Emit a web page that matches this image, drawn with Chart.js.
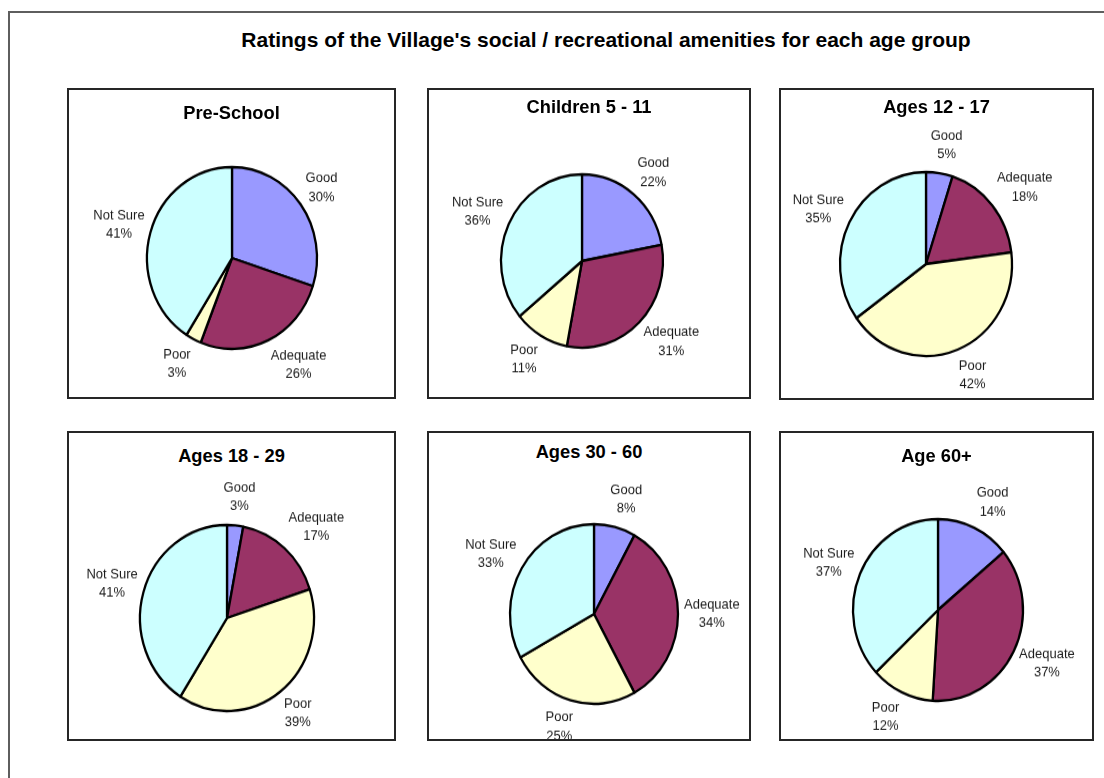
<!DOCTYPE html>
<html lang="en">
<head>
    <meta charset="UTF-8">
    <title>Ratings of the Village's social / recreational amenities</title>
    <script src="https://cdn.jsdelivr.net/npm/chart.js"></script>
    <style>
        html, body {
            margin: 0;
            padding: 0;
            background: #fff;
        }
        body {
            position: relative;
            width: 1104px;
            height: 778px;
            overflow: hidden;
            font-family: Arial, 'Liberation Sans', sans-serif;
        }
        .frame {
            position: absolute;
            left: 8px;
            top: 11px;
            width: 1200px;
            height: 900px;
            border: 2px solid #5e5e5e;
            box-sizing: border-box;
        }
        .main-title {
            position: absolute;
            left: 606px;
            top: 28.5px;
            transform: translateX(-50%);
            white-space: nowrap;
            font-size: 21px;
            line-height: 1;
            font-weight: bold;
            color: #000;
        }
        .panel {
            position: absolute;
            border: 2px solid #262626;
            box-sizing: border-box;
            overflow: hidden;
            background: #fff;
        }
        .panel-title {
            position: absolute;
            left: 0;
            right: 0;
            text-align: center;
            font-size: 18.3px;
            line-height: 1;
            font-weight: bold;
            color: #000;
            white-space: nowrap;
        }
        .panel canvas {
            position: absolute;
            transform-origin: 50% 50%;
        }
    </style>
</head>
<body>
    <div class="frame"></div>
    <div class="main-title">Ratings of the Village's social / recreational amenities for each age group</div>
    <div id="panels"></div>

    <script>
        // rating categories and the share (%) of answers for each age group
        const categories = ['Good', 'Adequate', 'Poor', 'Not Sure'];
        const ageGroups = ['Pre-School', 'Children 5 - 11', 'Ages 12 - 17', 'Ages 18 - 29', 'Ages 30 - 60', 'Age 60+'];
        const preSchool = [30, 26, 3, 41];
        const children5to11 = [22, 31, 11, 36];
        const ages12to17 = [5, 18, 42, 35];
        const ages18to29 = [3, 17, 39, 41];
        const ages30to60 = [8, 34, 25, 33];
        const age60plus = [14, 37, 12, 37];
        const groupValues = [preSchool, children5to11, ages12to17, ages18to29, ages30to60, age60plus];

        const sliceColours = ['#9999FF', '#993366', '#FFFFCC', '#CCFFFF'];

        // panel boxes on the page, pie centre / radius and title baseline (page px)
        const panels = [
            { left: 67,  top: 88,  width: 329, height: 311, cx: 232, cy: 258, r: 85, titleBase: 119 },
            { left: 427, top: 88,  width: 324, height: 311, cx: 582, cy: 261, r: 81, titleBase: 113 },
            { left: 779, top: 88,  width: 315, height: 312, cx: 926, cy: 264, r: 86, titleBase: 113 },
            { left: 67,  top: 431, width: 329, height: 310, cx: 227, cy: 618, r: 87, titleBase: 462 },
            { left: 427, top: 431, width: 324, height: 310, cx: 594, cy: 614, r: 84, titleBase: 458 },
            { left: 779, top: 431, width: 315, height: 310, cx: 938, cy: 610, r: 85, titleBase: 462 }
        ];

        const STRETCH = 1.07;   // the original pies are slightly taller than wide
        const CANVAS_W = 380;
        const CANVAS_H = 280;
        const LINE_H = 18.5;
        const LABEL_GAP = 6;
        const LABEL_HALF_H = 20;
        const BORDER = 2;

        // "Good / 30%" style labels outside each slice
        const outsideLabels = {
            id: 'outsideLabels',
            afterDatasetsDraw(chart) {
                const ctx = chart.ctx;
                const meta = chart.getDatasetMeta(0);
                const labels = chart.data.labels;
                const values = chart.data.datasets[0].data;
                ctx.save();
                ctx.font = '13px Arial, "Liberation Sans", sans-serif';
                ctx.fillStyle = '#1a1a1a';
                ctx.textAlign = 'center';
                ctx.textBaseline = 'middle';
                meta.data.forEach((arc, i) => {
                    const p = arc.getProps(['x', 'y', 'startAngle', 'endAngle', 'outerRadius'], true);
                    const mid = (p.startAngle + p.endAngle) / 2;
                    const dx = Math.cos(mid);
                    const dy = Math.sin(mid);
                    const lines = [labels[i], values[i] + '%'];
                    const w = Math.max(...lines.map(t => ctx.measureText(t).width));
                    const R = p.outerRadius + LABEL_GAP;
                    const push = Math.sign(dx) * Math.min(1, Math.abs(dx) * 2.5) * w / 2;
                    const lx = p.x + dx * R + push;
                    const ly = p.y + dy * (R + LABEL_HALF_H);
                    ctx.save();
                    ctx.translate(lx, ly);
                    ctx.scale(1, 1 / STRETCH);
                    ctx.fillText(lines[0], 0, -LINE_H / 2);
                    ctx.fillText(lines[1], 0, LINE_H / 2);
                    ctx.restore();
                });
                ctx.restore();
            }
        };

        function makePanel(i) {
            const box = panels[i];
            const div = document.createElement('div');
            div.className = 'panel';
            div.style.left = box.left + 'px';
            div.style.top = box.top + 'px';
            div.style.width = box.width + 'px';
            div.style.height = box.height + 'px';

            const canvas = document.createElement('canvas');
            canvas.width = CANVAS_W;
            canvas.height = CANVAS_H;
            canvas.style.left = (box.cx - box.left - BORDER - CANVAS_W / 2) + 'px';
            canvas.style.top = (box.cy - box.top - BORDER - CANVAS_H / 2) + 'px';
            canvas.style.transform = 'scaleY(' + STRETCH + ')';
            div.appendChild(canvas);

            const title = document.createElement('div');
            title.className = 'panel-title';
            title.textContent = ageGroups[i];
            title.style.top = (box.titleBase - box.top - BORDER - 15.5) + 'px';
            div.appendChild(title);

            document.getElementById('panels').appendChild(div);

            new Chart(canvas, {
                type: 'pie',
                data: {
                    labels: categories,
                    datasets: [{
                        data: groupValues[i],
                        backgroundColor: sliceColours,
                        borderColor: '#000',
                        borderWidth: 2.3,
                        radius: box.r
                    }]
                },
                options: {
                    responsive: false,
                    animation: false,
                    layout: { padding: 0 },
                    plugins: {
                        legend: { display: false },
                        tooltip: { enabled: false }
                    }
                },
                plugins: [outsideLabels]
            });
        }

        document.addEventListener('DOMContentLoaded', function() {
            ageGroups.forEach((g, i) => makePanel(i));
        });
    </script>
</body>
</html>
